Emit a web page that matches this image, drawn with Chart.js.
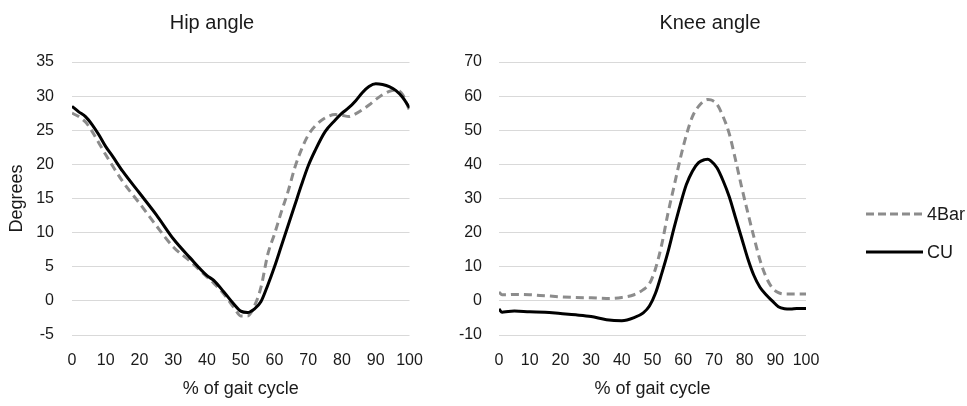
<!doctype html>
<html>
    <head>
        <title>Hip and knee angle</title>
        <script src="https://cdn.jsdelivr.net/npm/chart.js"></script>
        <style>
            body {
                margin: 0;
                background: #fff;
                font-family: "Liberation Sans", Arial, sans-serif;
            }
            #wrap {
                position: relative;
                width: 967px;
                height: 406px;
            }
            #hip {
                position: absolute;
                left: 0;
                top: 0;
            }
            #knee {
                position: absolute;
                left: 453px;
                top: 0;
            }
            .ttl {
                position: absolute;
                top: 10px;
                width: 200px;
                text-align: center;
                font-size: 20px;
                line-height: 24px;
                color: #1a1a1a;
            }
            .key {
                position: absolute;
                left: 866px;
                font-size: 18px;
                color: #1a1a1a;
                line-height: 22px;
                height: 22px;
                white-space: nowrap;
            }
            .key svg {
                vertical-align: top;
                margin-right: 4px;
            }
        </style>
    </head>
    <body>
        <div id="wrap">
            <canvas id="hip" width="430" height="406"></canvas>
            <canvas id="knee" width="514" height="406"></canvas>
            <div class="ttl" style="left:112px">Hip angle</div>
            <div class="ttl" style="left:610px">Knee angle</div>
            <div class="key" style="top:203px">
                <svg width="57" height="22"><line x1="0" y1="11" x2="57" y2="11" stroke="#8c8c8c" stroke-width="3" stroke-dasharray="8,4"/></svg>4Bar
            </div>
            <div class="key" style="top:241px">
                <svg width="57" height="22"><line x1="0" y1="11" x2="57" y2="11" stroke="#000" stroke-width="3"/></svg>CU
            </div>
        </div>

        <script>
        // % of gait cycle
        var hipX = [0, 2, 4, 6, 8, 10, 12, 15, 20, 25, 30, 35, 40, 42, 45, 48, 50, 52, 54, 56,
                    58, 60, 62, 64, 66, 68, 70, 72, 75, 78, 80, 82, 84, 86, 88, 90, 92, 94, 96, 98, 100];
        var hip4Bar = [27.5, 27.0, 26.2, 24.8, 23.1, 21.4, 19.8, 17.5, 14.3, 11.0, 7.9, 5.8, 3.5, 2.6, 1.0, -1.0, -2.2, -2.2, -0.8, 2.0,
                       6.8, 9.8, 13.0, 16.0, 19.5, 22.2, 24.3, 25.6, 26.8, 27.3, 27.2, 27.0, 27.4, 28.0, 28.7, 29.5, 30.2, 30.7, 30.9, 30.2, 27.9];
        var hipCU = [28.5, 27.7, 27.0, 25.8, 24.3, 22.6, 21.2, 19.0, 15.8, 12.6, 9.1, 6.3, 3.7, 3.0, 1.3, -0.5, -1.5, -1.7, -1.2, -0.1,
                     2.3, 5.0, 8.0, 11.0, 14.0, 17.0, 19.8, 22.0, 24.8, 26.5, 27.5, 28.3, 29.3, 30.5, 31.4, 31.8, 31.7, 31.4, 30.8, 29.8, 28.3];

        var kneeX = [0, 1, 3, 5, 10, 15, 20, 25, 30, 35, 40, 44, 47, 49, 51, 53, 55, 57, 59, 61,
                     63, 65, 67, 68, 69, 71, 73, 75, 77, 79, 81, 83, 85, 87, 89, 91, 93, 95, 97, 100];
        var knee4Bar = [2.6, 1.8, 1.8, 1.9, 1.8, 1.5, 1.2, 1.0, 0.9, 0.7, 1.0, 1.8, 3.3, 5.0, 9.5, 16.5, 25.5, 33.5, 41.5, 48.5,
                        54.0, 57.0, 58.7, 59.0, 58.9, 57.6, 54.0, 49.0, 41.5, 33.5, 26.0, 18.8, 12.0, 7.0, 3.8, 2.4, 2.0, 2.0, 2.0, 2.0];
        var kneeCU = [-2.4, -3.3, -3.1, -3.0, -3.2, -3.3, -3.7, -4.1, -4.6, -5.5, -5.8, -4.9, -3.5, -1.5, 2.3, 8.0, 14.2, 21.3, 28.0, 34.0,
                      38.0, 40.5, 41.4, 41.5, 41.0, 39.0, 35.2, 30.5, 24.5, 18.5, 12.5, 7.5, 4.0, 1.8, 0.0, -1.7, -2.3, -2.4, -2.2, -2.2];

        var FONT = '"Liberation Sans", Arial, sans-serif';
        var TXT = '#1a1a1a';

        function pts(xs, ys) {
            return xs.map(function (x, i) { return {x: x, y: ys[i]}; });
        }

        function makeChart(id, xs, a, b, yMin, yMax, yStep, yTitle, yWidth, yPad, rightPad) {
            return new Chart(document.getElementById(id), {
                type: 'line',
                data: {
                    datasets: [{
                        label: '4Bar',
                        data: pts(xs, a),
                        borderColor: '#8c8c8c',
                        borderWidth: 3,
                        borderDash: [8, 5],
                        pointRadius: 0,
                        cubicInterpolationMode: 'monotone',
                        order: 1
                    }, {
                        label: 'CU',
                        data: pts(xs, b),
                        borderColor: '#000',
                        borderWidth: 3,
                        pointRadius: 0,
                        cubicInterpolationMode: 'monotone',
                        order: 0
                    }]
                },
                options: {
                    responsive: false,
                    animation: false,
                    layout: {padding: {left: 0, right: rightPad, top: 62, bottom: 0}},
                    plugins: {
                        legend: {display: false},
                        tooltip: {enabled: false},
                        title: {display: false}
                    },
                    scales: {
                        x: {
                            type: 'linear',
                            min: 0,
                            max: 100,
                            grid: {display: false, drawTicks: false},
                            border: {display: false},
                            ticks: {
                                stepSize: 10,
                                autoSkip: false,
                                maxRotation: 0,
                                padding: 16,
                                color: TXT,
                                font: {family: FONT, size: 16}
                            },
                            title: {
                                display: true,
                                text: '% of gait cycle',
                                color: TXT,
                                font: {family: FONT, size: 18},
                                padding: {top: 0, bottom: 6}
                            },
                            afterFit: function (s) {
                                s.height = 71;
                                s.paddingLeft = 0;
                                s.paddingRight = 0;
                            }
                        },
                        y: {
                            min: yMin,
                            max: yMax,
                            grid: {color: '#d9d9d9', lineWidth: 1, drawTicks: false},
                            border: {display: false},
                            ticks: {
                                stepSize: yStep,
                                padding: yPad,
                                color: TXT,
                                font: {family: FONT, size: 16}
                            },
                            title: {
                                display: yTitle !== '',
                                text: yTitle,
                                color: TXT,
                                font: {family: FONT, size: 18},
                                padding: {top: 6, bottom: 0}
                            },
                            afterFit: function (s) { s.width = yWidth; }
                        }
                    }
                }
            });
        }

        makeChart('hip', hipX, hip4Bar, hipCU, -5, 35, 5, 'Degrees', 72, 18, 20.5);
        makeChart('knee', kneeX, knee4Bar, kneeCU, -10, 70, 10, '', 46, 17, 161);
        </script>
    </body>
</html>
